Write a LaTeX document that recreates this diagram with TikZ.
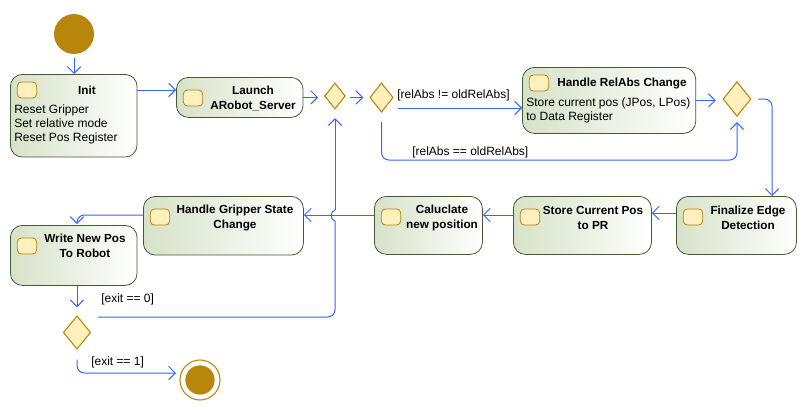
\documentclass[tikz,border=0pt]{standalone}
\usepackage{fontspec}
\setmainfont{Liberation Sans}
\usetikzlibrary{arrows.meta,shapes.geometric}
\definecolor{flowblue}{RGB}{51,102,255}
\definecolor{gold}{RGB}{184,134,11}
\definecolor{paleyellow}{RGB}{255,240,190}
\definecolor{boxedge}{RGB}{70,90,50}
\definecolor{boxgreen}{RGB}{214,226,200}
\tikzset{
    flowline/.style={draw=flowblue, line width=0.75pt, rounded corners=5.5},
    flow/.style={flowline, -{Straight Barb[length=5pt,width=10pt]}},
    activity/.style={draw=boxedge, semithick, rounded corners=9, left color=boxgreen, right color=white, anchor=north west, inner sep=0pt},
    pin/.style={draw=gold, semithick, rounded corners=3, fill=paleyellow, minimum width=14.5, minimum height=12, inner sep=0pt},
    choice/.style={diamond, draw=gold, thick, fill=paleyellow, inner sep=0pt},
    title/.style={font=\fontsize{8.8}{11.25}\selectfont\bfseries, align=center},
    body/.style={font=\fontsize{9}{10.5}\selectfont, align=left, anchor=north west, inner sep=0pt},
    guard/.style={font=\fontsize{9}{10.5}\selectfont, anchor=west, inner sep=0pt}
}
\begin{document}
\begin{tikzpicture}[x=0.75pt, y=-0.75pt]
    \useasboundingbox (0,0) rectangle (808,414);
    % start and end
    \node [circle, fill=gold, minimum size=30, inner sep=0pt] (start) at (74,34){};
    \node [circle, draw=gold, thick, minimum size=30, inner sep=0pt] (stop) at (200,380){};
    \node [circle, fill=gold, minimum size=22, inner sep=0pt] (stopdot) at (200,380){};
    % activities
    \node [activity, minimum width=95, minimum height=62] (init) at (10,74){};
    \node [activity, minimum width=95, minimum height=30] (launch) at (176,77){};
    \node [activity, minimum width=130, minimum height=49.5] (relabs) at (522,67){};
    \node [activity, minimum width=90, minimum height=43.5] (finalize) at (676,196){};
    \node [activity, minimum width=103.5, minimum height=43.5] (store) at (513,196){};
    \node [activity, minimum width=81, minimum height=43.5] (newpos) at (374,196){};
    \node [activity, minimum width=120, minimum height=44] (gripper) at (143,196){};
    \node [activity, minimum width=95, minimum height=45] (write) at (10,225){};
    % pins
    \node [pin] (pinInit) at (27,90){};
    \node [pin] (pinLaunch) at (193,98){};
    \node [pin] (pinRelabs) at (539,83){};
    \node [pin] (pinFinalize) at (693,217){};
    \node [pin] (pinStore) at (530,217){};
    \node [pin] (pinNewpos) at (391,217){};
    \node [pin] (pinGripper) at (160,217){};
    \node [pin] (pinWrite) at (27,246){};
    % decisions
    \node [choice, minimum width=15.5, minimum height=19.5] (merge) at (335,96){};
    \node [choice, minimum width=17.5, minimum height=22] (branch) at (381.5,97.5){};
    \node [choice, minimum width=21, minimum height=26] (join) at (737,99){};
    \node [choice, minimum width=20.5, minimum height=25] (exit) at (77,332.5){};
    % texts
    \node [title] (tInit) at (87,90){Init};
    \node [body] (bInit) at (14,105){Reset Gripper\\Set relative mode\\Reset Pos Register};
    \node [title] (tLaunch) at (253,98.5){Launch\\ARobot\_Server};
    \node [title] (tRelabs) at (622,83){Handle RelAbs Change};
    \node [body] (bRelabs) at (526,98){Store current pos (JPos, LPos)\\to Data Register};
    \node [title] (tFinalize) at (748,217.5){Finalize Edge\\Detection};
    \node [title] (tStore) at (593,217.5){Store Current Pos\\to PR};
    \node [title] (tNewpos) at (442,217.5){Caluclate\\new position};
    \node [title] (tGripper) at (235,217.5){Handle Gripper State\\Change};
    \node [title] (tWrite) at (85,245.5){Write New Pos\\To Robot};
    % guards
    \node [guard] (gNe) at (397,95){[relAbs != oldRelAbs]};
    \node [guard] (gEq) at (412,152){[relAbs == oldRelAbs]};
    \node [guard] (gZero) at (101,299){[exit == 0]};
    \node [guard] (gOne) at (91,362){[exit == 1]};
    % free ends of the connectors
    \coordinate (neStart) at (398,108);
    \coordinate (eqLow) at (737,160);
    \coordinate (edgeIn) at (772,196);
    \coordinate (finalizeOut) at (676,213);
    \coordinate (storeOut) at (513,215);
    \coordinate (newposOut) at (374,215);
    \coordinate (gripperOut) at (143,215);
    \coordinate (writeIn) at (77,224);
    \coordinate (loopStart) at (98,317);
    \coordinate (hopLow) at (335,221);
    \coordinate (hopHigh) at (335,210);
    \coordinate (stopIn) at (176,373);
    % connectors
    \draw [flow, shorten <=3] (start.south) -- (start.south |- init.north);
    \draw [flow] (pinInit -| init.east) -- (pinInit -| launch.west);
    \draw [flow, shorten >=4.5] (launch.east) -- (launch.east -| merge.west);
    \draw [flow, shorten <=3.4, shorten >=4.5] (branch.west -| merge.east) -- (branch.west);
    \draw [flow] (neStart) -- (neStart -| relabs.west);
    \draw [flow, shorten <=7, shorten >=4] (branch.south) |- (eqLow) -- (join.south);
    \draw [flow, shorten >=5] (relabs.east) -- (relabs.east -| join.west);
    \draw [flow, shorten <=5] (join.east) -| (edgeIn);
    \draw [flow] (finalizeOut) -- (finalizeOut -| store.east);
    \draw [flow] (storeOut) -- (storeOut -| newpos.east);
    \draw [flow] (newposOut) -- (newposOut -| gripper.east);
    \draw [flow] (gripperOut) -| (writeIn);
    \draw [flow, shorten >=6] (exit.north |- write.south) -- (exit.north);
    \draw [flowline] (loopStart) -| (hopLow);
    \draw [flowline] (hopLow) .. controls (330,220) and (330,211) .. (hopHigh);
    \draw [flow, shorten >=6.5] (hopHigh) -- (merge.south);
    \draw [flow, shorten <=7.5] (exit.south) |- (stopIn);
\end{tikzpicture}
\end{document}
